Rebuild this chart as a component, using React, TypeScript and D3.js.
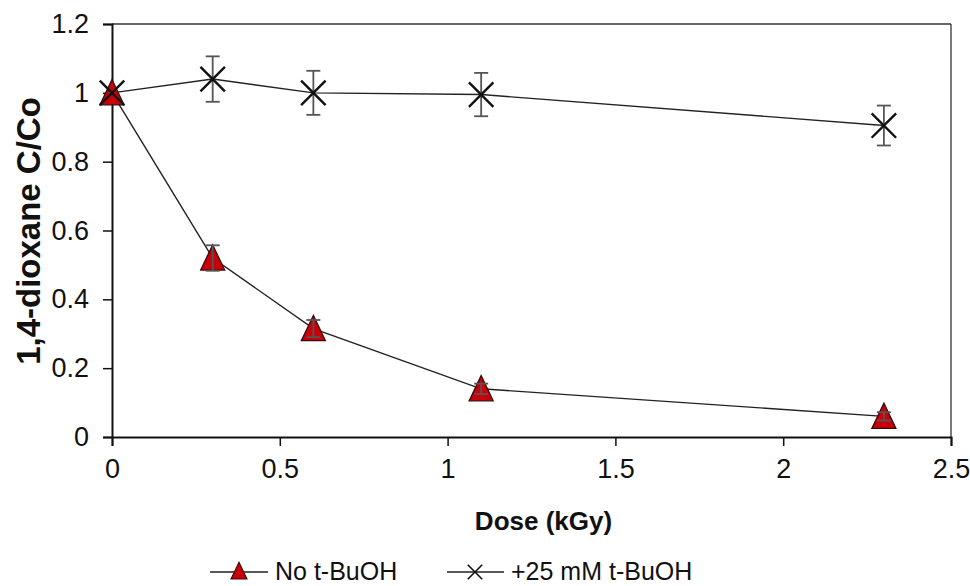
import React, { useEffect, useRef } from 'react';
import * as d3 from 'd3';

const doses = [0, 0.3, 0.6, 1.1, 2.3];
const noBuOH = [1, 0.52, 0.315, 0.14, 0.06];
const noBuOHErr = [0, 0.037, 0.025, 0.015, 0.012];
const withBuOH = [1, 1.04, 1.0, 0.995, 0.905];
const withBuOHErr = [0, 0.066, 0.064, 0.063, 0.058];
const xTicks = [0, 0.5, 1, 1.5, 2, 2.5];
const yTicks = [0, 0.2, 0.4, 0.6, 0.8, 1, 1.2];
const seriesNames = ['No t-BuOH', '+25 mM t-BuOH'];

const W = 970;
const H = 586;
const FONT = 'Liberation Sans, Arial, sans-serif';

const App = () => {
  const svgRef = useRef<SVGSVGElement>(null);

  useEffect(() => {
    const svg = d3.select(svgRef.current);
    svg.selectAll('*').remove();

    const margin = { top: 24, right: 19, bottom: 149, left: 112 };
    const width = W - margin.left - margin.right;
    const height = H - margin.top - margin.bottom;

    const g = svg.append('g').attr('transform', `translate(${margin.left},${margin.top})`);

    const x = d3.scaleLinear().domain([0, 2.5]).range([0, width]);
    const y = d3.scaleLinear().domain([0, 1.2]).range([height, 0]);

    // plot border (top/right)
    g.append('line').attr('x1', 0).attr('x2', width).attr('y1', 0).attr('y2', 0)
      .attr('stroke', '#333').attr('stroke-width', 1.3);
    g.append('line').attr('x1', width).attr('x2', width).attr('y1', 0).attr('y2', height)
      .attr('stroke', '#333').attr('stroke-width', 1.3);

    const xAxis = g.append('g')
      .attr('transform', `translate(0,${height})`)
      .call(d3.axisBottom(x).tickValues(xTicks).tickSize(9).tickPadding(13).tickFormat(d => String(d)));
    const yAxis = g.append('g')
      .call(d3.axisLeft(y).tickValues(yTicks).tickSize(9).tickPadding(14).tickFormat(d => String(d)));

    [xAxis, yAxis].forEach(a => {
      a.select('.domain').attr('stroke', '#111').attr('stroke-width', 2);
      a.selectAll('.tick line').attr('stroke', '#111').attr('stroke-width', 1.5);
      a.selectAll('.tick text').attr('fill', '#111').style('font-family', FONT).style('font-size', '27px');
    });

    // axis titles
    svg.append('text')
      .attr('x', margin.left + width / 2 + 12)
      .attr('y', 530)
      .attr('text-anchor', 'middle')
      .style('font-family', FONT).style('font-size', '26px').style('font-weight', 'bold')
      .attr('fill', '#111')
      .text('Dose (kGy)');
    svg.append('text')
      .attr('transform', `translate(40,${231}) rotate(-90)`)
      .attr('text-anchor', 'middle')
      .style('font-family', FONT).style('font-size', '33px').style('font-weight', 'bold')
      .attr('fill', '#111')
      .text('1,4-dioxane C/Co');

    const line = d3.line<number>().x((_, i) => x(doses[i])).y(d => y(d));

    const triPath = (cx: number, cy: number, s: number) =>
      `M${cx},${cy - s * 0.55}L${cx + s / 2},${cy + s * 0.5}L${cx - s / 2},${cy + s * 0.5}Z`;
    const crossPath = (cx: number, cy: number, s: number) => {
      const k = (s / 2) * 0.72;
      return `M${cx - k},${cy - k}L${cx + k},${cy + k}M${cx - k},${cy + k}L${cx + k},${cy - k}`;
    };

    g.append('path').datum(withBuOH).attr('d', line)
      .attr('fill', 'none').attr('stroke', '#222').attr('stroke-width', 1.4);
    g.append('path').datum(noBuOH).attr('d', line)
      .attr('fill', 'none').attr('stroke', '#222').attr('stroke-width', 1.4);

    const errBars = (vals: number[], errs: number[]) => {
      vals.forEach((v, i) => {
        if (!errs[i]) return;
        const cx = x(doses[i]);
        const eb = g.append('g').attr('stroke', '#555').attr('stroke-width', 1.8);
        eb.append('line').attr('x1', cx).attr('x2', cx).attr('y1', y(v + errs[i])).attr('y2', y(v - errs[i]));
        eb.append('line').attr('x1', cx - 7).attr('x2', cx + 7).attr('y1', y(v + errs[i])).attr('y2', y(v + errs[i]));
        eb.append('line').attr('x1', cx - 7).attr('x2', cx + 7).attr('y1', y(v - errs[i])).attr('y2', y(v - errs[i]));
      });
    };

    noBuOH.forEach((v, i) => {
      g.append('path').attr('d', triPath(x(doses[i]), y(v), 24))
        .attr('fill', '#c8000a').attr('stroke', '#3a0a0a').attr('stroke-width', 1.3);
    });
    errBars(noBuOH, noBuOHErr);

    errBars(withBuOH, withBuOHErr);
    withBuOH.forEach((v, i) => {
      g.append('path').attr('d', crossPath(x(doses[i]), y(v), 34))
        .attr('fill', 'none').attr('stroke', '#111').attr('stroke-width', 2.4);
    });

    // legend
    const ly = 572;
    const fs = '25px';
    const leg = svg.append('g');
    leg.append('line').attr('x1', 210).attr('x2', 268).attr('y1', ly).attr('y2', ly)
      .attr('stroke', '#222').attr('stroke-width', 1.4);
    leg.append('path').attr('d', triPath(239, ly - 1, 16))
      .attr('fill', '#c8000a').attr('stroke', '#3a0a0a').attr('stroke-width', 1.1);
    leg.append('text').attr('x', 275).attr('y', ly + 8)
      .style('font-family', FONT).style('font-size', fs).attr('fill', '#111')
      .text(seriesNames[0]);
    leg.append('line').attr('x1', 447).attr('x2', 504).attr('y1', ly).attr('y2', ly)
      .attr('stroke', '#222').attr('stroke-width', 1.4);
    leg.append('path').attr('d', crossPath(475, ly, 20))
      .attr('fill', 'none').attr('stroke', '#111').attr('stroke-width', 1.6);
    leg.append('text').attr('x', 511).attr('y', ly + 8)
      .style('font-family', FONT).style('font-size', fs).attr('fill', '#111')
      .text(seriesNames[1]);
  }, []);

  return (
    <svg ref={svgRef} width={W} height={H} style={{ position: 'absolute', left: 0, top: 0, background: '#fff' }} />
  );
};

export default App;
